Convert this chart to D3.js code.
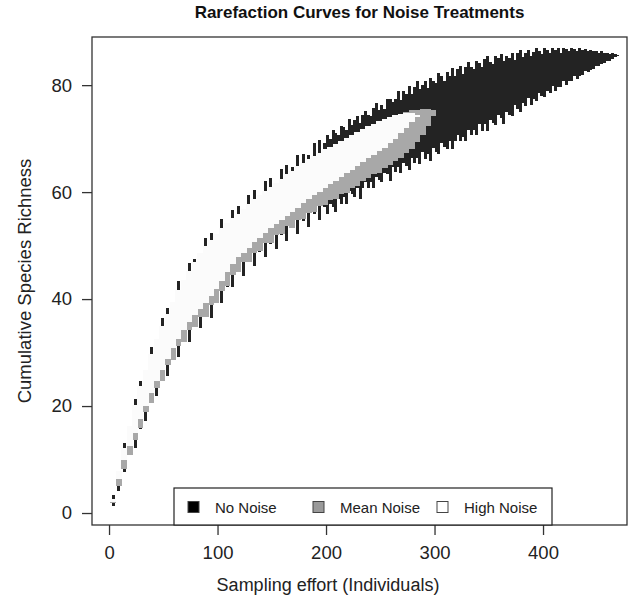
<!DOCTYPE html>
<html>
<head>
<meta charset="utf-8">
<script src="https://cdn.jsdelivr.net/npm/d3@7"></script>
<style>
  body { margin: 0; background: #fff; }
  svg { display: block; font-family: "Liberation Sans", Arial, Helvetica, sans-serif; }
</style>
</head>
<body>
<div id="chart"></div>
<script>
// No Noise was read more finely where its bars run together
const noNoiseEffort = [4,9,14,19,24,29,34,39,44,49,54,59,64,69,74,79,84,89,94,99,
  104,109,114,119,124,129,134,139,144,149,154,159,164,169,174,179,184,189,194,199,
  201.5,204,206.5,209,211.5,214,216.5,219,221.5,224,226.5,229,231.5,234,236.5,239,241.5,244,246.5,249,
  251.5,254,256.5,259,261.5,264,266.5,269,271.5,274,276.5,279,281.5,284,286.5,289,291.5,294,296.5,299,
  301.5,304,306.5,309,311.5,314,316.5,319,321.5,324,326.5,329,331.5,334,336.5,339,341.5,344,346.5,349,
  351.5,354,356.5,359,361.5,364,366.5,369,371.5,374,376.5,379,381.5,384,386.5,389,391.5,394,396.5,399,
  401.5,404,406.5,409,411.5,414,416.5,419,421.5,424,426.5,429,431.5,434,436.5,439,441.5,444,446.5,449,
  451.5,454,456.5,459,461.5,464,466.5,469];
const noNoiseLo = [1.4,4.2,7.6,10.8,12.1,15.7,17.2,20.6,21.8,24.9,
  25.6,28.7,29.2,32.0,32.0,34.9,34.6,36.9,36.5,39.6,
  39.3,42.3,42.2,45.1,44.3,46.9,46.1,48.8,47.9,50.3,
  49.4,51.9,50.8,53.3,52.1,54.6,53.4,56.0,54.8,57.3,
  56.0,57.8,57.3,56.3,58.8,57.8,59.0,57.8,60.2,59.6,59.1,60.7,58.8,60.7,61.9,60.7,61.8,60.7,62.9,62.2,
  61.9,63.6,63.3,62.1,64.7,63.7,64.7,63.6,65.5,64.9,64.1,66.3,65.4,66.3,65.3,67.5,66.2,67.2,65.8,68.2,
  67.5,67.1,69.2,68.5,68.1,69.5,68.0,69.6,70.6,69.6,70.3,69.5,71.6,70.7,71.6,70.6,72.8,71.5,72.7,71.4,
  73.5,72.9,72.6,74.4,73.9,72.7,74.9,74.4,74.3,76.2,75.5,75.0,76.6,76.1,77.6,76.3,77.5,77.1,78.6,77.9,
  77.8,78.9,78.6,79.9,78.9,79.7,79.7,80.8,80.0,80.8,80.8,81.7,81.2,81.8,81.9,82.7,82.5,82.9,83.0,83.6,
  83.6,84.0,84.2,84.6,84.6,84.9,85.2,85.4];
const noNoiseHi = [3.4,7.6,13.1,16.0,21.3,24.6,26.5,31.0,32.3,36.4,
  38.3,39.4,43.3,43.4,46.8,47.5,48.5,51.4,52.3,52.1,
  54.9,54.1,56.6,57.4,56.8,59.5,60.4,59.4,62.1,62.6,
  61.6,64.3,65.1,64.7,66.9,67.2,66.9,69.1,69.8,69.2,
  70.7,70.0,71.7,71.1,70.6,72.3,72.1,71.7,73.6,72.5,73.4,74.2,72.9,74.4,75.2,74.4,74.3,75.7,76.7,75.4,
  76.2,75.5,77.5,77.4,76.8,77.5,78.9,77.3,78.9,78.4,79.8,78.4,79.6,80.8,79.3,80.1,80.8,79.5,81.4,80.7,
  80.4,82.3,81.7,80.8,82.4,81.8,83.2,81.7,83.0,83.5,82.1,83.3,84.3,83.4,83.1,84.6,84.2,83.3,84.8,85.4,
  84.3,84.0,85.4,85.0,85.9,84.5,85.5,85.1,86.1,84.7,86.0,86.5,85.3,86.1,86.6,85.4,86.2,87.0,86.3,85.8,
  87.0,86.6,86.1,87.0,86.6,87.0,86.1,86.9,86.8,86.4,87.0,86.7,86.3,86.9,86.6,86.7,86.3,86.6,86.3,86.4,
  86.1,86.3,86.1,86.1,85.9,86.0,85.8,85.7];

// Mean Noise and High Noise share the same sampling points
const treatEffort = [4,9,14,19,24,29,34,39,44,49,54,59,64,69,74,79,84,89,94,99,
  104,109,114,119,124,129,134,139,144,149,154,159,164,169,174,179,184,189,194,199,
  204,209,214,219,224,229,234,239,244,249,254,259,264,269,274,279,284,289,294,299];

const meanNoiseLo = [1.8,5.0,8.3,10.9,13.6,15.9,18.8,20.5,23.4,24.7,
  27.6,28.6,31.2,31.9,34.3,34.8,36.6,36.7,38.8,39.3,
  41.6,42.4,44.5,45.0,46.9,47.0,48.7,48.9,50.5,50.4,
  52.0,52.1,53.6,53.2,54.8,54.9,56.1,56.3,57.4,57.5,
  58.5,58.7,59.6,59.9,60.8,61.2,62.0,62.6,63.3,63.6,
  64.5,65.1,65.9,66.4,67.3,68.0,69.3,70.6,72.3,74.2];
const meanNoiseHi = [2.2,6.9,11.3,15.3,19.3,22.8,25.8,28.8,31.6,34.1,
  36.3,38.6,40.8,42.6,44.3,46.0,47.7,49.0,50.1,51.3,
  52.3,53.3,54.2,55.1,56.0,56.9,57.8,58.6,59.4,60.1,
  60.8,61.6,62.4,63.1,63.9,64.6,65.3,65.9,66.5,67.1,
  67.6,68.1,68.7,69.2,69.8,70.3,70.9,71.4,71.9,72.4,
  72.9,73.4,74.0,74.6,75.0,75.3,75.4,75.5,75.5,75.4];

const highNoiseLo = [2.0,6.3,9.9,12.5,14.9,17.6,20.1,22.4,24.6,26.7,
  28.8,30.8,32.6,34.3,35.7,37.1,38.2,39.3,40.5,41.9,
  43.4,45.0,46.5,47.8,48.7,49.6,50.6,51.5,52.4,53.2,
  54.0,54.8,55.6,56.3,57.1,57.9,58.7,59.4,60.1,60.8,
  61.5,62.1,62.8,63.5,64.2,64.9,65.6,66.3,67.0,67.6,
  68.3,69.1,70.0,71.0,72.0,73.1,74.0];
const highNoiseHi = [2.6,7.8,12.2,16.2,20.2,23.7,26.7,29.7,32.5,35.0,
  37.2,39.5,41.7,43.5,45.2,46.9,48.6,49.9,51.0,52.2,
  53.2,54.2,55.1,56.0,56.9,57.8,58.7,59.5,60.3,61.0,
  61.7,62.5,63.3,64.0,64.8,65.5,66.2,66.8,67.4,68.0,
  68.5,69.0,69.6,70.1,70.7,71.2,71.8,72.3,72.8,73.3,
  73.7,74.1,74.4,74.6,74.7,74.7,74.5];

const seriesNames = ["No Noise", "Mean Noise", "High Noise"];
const xTicks = [0, 100, 200, 300, 400];
const yTicks = [0, 20, 40, 60, 80];

const width = 643, height = 598;
const plot = { left: 92, right: 627, top: 37, bottom: 525 };
const keyColors = ["#000000", "#9a9a9a", "#ffffff"];

const svg = d3.select('#chart')
  .append('svg')
  .attr('width', width)
  .attr('height', height);

const x = d3.scaleLinear().domain([-15.7, 477.4]).range([plot.left, plot.right]);
const y = d3.scaleLinear().domain([-2.24, 89]).range([plot.bottom, plot.top]);

const series = [
  { n: noNoiseEffort, lo: noNoiseLo, hi: noNoiseHi, color: "#232323", w: 3.0 },
  { n: treatEffort, lo: meanNoiseLo, hi: meanNoiseHi, color: "#a8a8a8", w: 6.0 },
  { n: treatEffort, lo: highNoiseLo, hi: highNoiseHi, color: "#fbfbfb", w: 6.0 }
];

// error bars, drawn in order so later treatments sit on top
series.forEach(s => {
  const rows = s.lo.map((v, j) => ({ n: s.n[j], lo: v, hi: s.hi[j] }));
  svg.append('g')
    .attr('class', 'bars')
    .attr('shape-rendering', 'crispEdges')
    .selectAll('line')
    .data(rows)
    .enter()
    .append('line')
    .attr('x1', d => x(d.n))
    .attr('x2', d => x(d.n))
    .attr('y1', d => y(d.lo))
    .attr('y2', d => y(d.hi))
    .attr('stroke', s.color)
    .attr('stroke-width', s.w);
});

// axes
const xAxis = d3.axisBottom(x).tickValues(xTicks).tickSize(10).tickPadding(11);
const yAxis = d3.axisLeft(y).tickValues(yTicks).tickSize(10).tickPadding(10);

const gx = svg.append('g')
  .attr('transform', `translate(0, ${plot.bottom})`)
  .call(xAxis);
const gy = svg.append('g')
  .attr('transform', `translate(${plot.left}, 0)`)
  .call(yAxis);

[gx, gy].forEach(g => {
  g.select('.domain').remove();
  g.selectAll('line').attr('stroke', '#333').attr('stroke-width', 1.3);
  g.selectAll('text')
    .attr('fill', '#222')
    .style('font-size', '18.5px')
    .style('font-family', '"Liberation Sans", Arial, sans-serif');
});

// plot frame
svg.append('rect')
  .attr('x', plot.left)
  .attr('y', plot.top)
  .attr('width', plot.right - plot.left)
  .attr('height', plot.bottom - plot.top)
  .attr('fill', 'none')
  .attr('stroke', '#333')
  .attr('stroke-width', 1.3);

// titles
svg.append('text')
  .attr('x', (plot.left + plot.right) / 2)
  .attr('y', 18)
  .attr('text-anchor', 'middle')
  .style('font-size', '17px')
  .style('font-weight', 'bold')
  .attr('fill', '#111')
  .text('Rarefaction Curves for Noise Treatments');

svg.append('text')
  .attr('x', 328)
  .attr('y', 591)
  .attr('text-anchor', 'middle')
  .style('font-size', '18px')
  .attr('fill', '#222')
  .text('Sampling effort (Individuals)');

svg.append('text')
  .attr('transform', 'translate(31, 281) rotate(-90)')
  .attr('text-anchor', 'middle')
  .style('font-size', '18.5px')
  .attr('fill', '#222')
  .text('Cumulative Species Richness');

// legend
const legend = svg.append('g').attr('transform', 'translate(174, 488)');
legend.append('rect')
  .attr('width', 378)
  .attr('height', plot.bottom - 488)
  .attr('fill', '#fff')
  .attr('stroke', '#222')
  .attr('stroke-width', 1.2);

const keyX = [14, 139, 263];
const item = legend.selectAll('.key')
  .data(seriesNames)
  .enter()
  .append('g')
  .attr('class', 'key')
  .attr('transform', (d, i) => `translate(${keyX[i]}, 19)`);

item.append('rect')
  .attr('x', 0)
  .attr('y', -5.5)
  .attr('width', 11)
  .attr('height', 11)
  .attr('fill', (d, i) => keyColors[i])
  .attr('stroke', '#444')
  .attr('stroke-width', 1);

item.append('text')
  .attr('x', 27)
  .attr('y', 5.5)
  .style('font-size', '15px')
  .attr('fill', '#222')
  .text(d => d);
</script>
</body>
</html>
